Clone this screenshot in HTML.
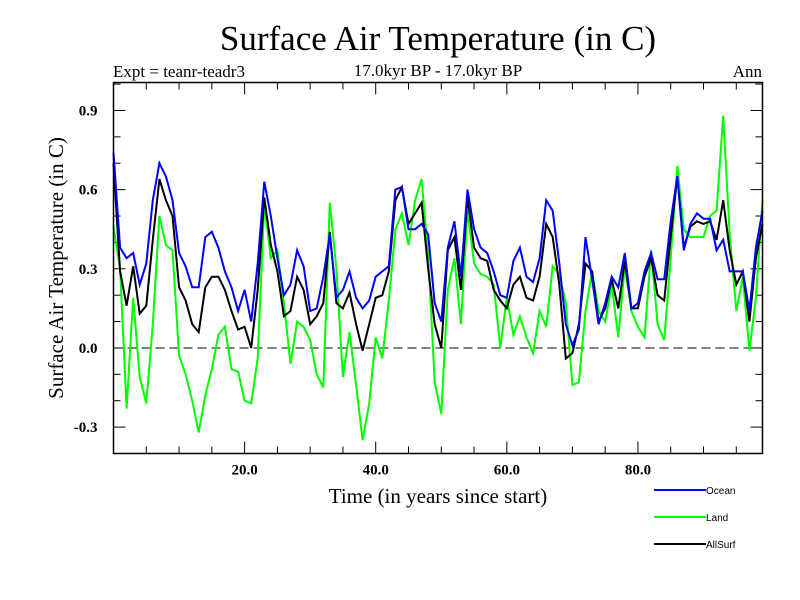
<!DOCTYPE html>
<html><head><meta charset="utf-8"><style>
body{margin:0;background:#fff;}
svg{display:block;font-family:"Liberation Serif",serif;}
</style></head><body>
<svg id="chart" width="800" height="600">
<rect width="800" height="600" fill="#fff"/>
<text x="438" y="50" font-size="35" text-anchor="middle">Surface Air Temperature (in C)</text>
<text x="438" y="76" font-size="17" text-anchor="middle">17.0kyr BP - 17.0kyr BP</text>
<text x="113" y="77" font-size="17">Expt = teanr-teadr3</text>
<text x="762" y="77" font-size="17" text-anchor="end">Ann</text>
<text transform="translate(63,268) rotate(-90)" font-size="21" text-anchor="middle">Surface Air Temperature (in C)</text>
<text x="438" y="503" font-size="21" text-anchor="middle">Time (in years since start)</text>
<g id="axes"></g>
<g id="series"></g>
<rect x="113.5" y="82.5" width="649" height="371" fill="none" stroke="#000" stroke-width="1.5"/>
<g font-family="Liberation Sans, sans-serif" font-size="10">
<g><line x1="654" y1="490" x2="706" y2="490" stroke="#0000ff" stroke-width="2"/><text x="706" y="494">Ocean</text></g>
<g><line x1="654" y1="517" x2="706" y2="517" stroke="#00ff00" stroke-width="2"/><text x="706" y="521">Land</text></g>
<g><line x1="654" y1="544" x2="706" y2="544" stroke="#000" stroke-width="2"/><text x="706" y="548">AllSurf</text></g>
</g>
</svg>
<script>
const ocean=[0.74,0.38,0.34,0.36,0.24,0.32,0.56,0.70,0.65,0.56,0.36,0.31,0.23,0.23,0.42,0.44,0.38,0.29,0.23,0.14,0.22,0.10,0.32,0.63,0.50,0.34,0.20,0.24,0.37,0.31,0.14,0.15,0.27,0.43,0.19,0.22,0.29,0.19,0.15,0.18,0.27,0.29,0.31,0.60,0.61,0.45,0.45,0.47,0.43,0.17,0.10,0.38,0.48,0.27,0.60,0.45,0.38,0.36,0.29,0.20,0.19,0.33,0.38,0.27,0.25,0.34,0.56,0.52,0.32,0.09,0.01,0.07,0.42,0.26,0.09,0.17,0.27,0.23,0.36,0.15,0.17,0.29,0.36,0.26,0.26,0.48,0.65,0.37,0.47,0.51,0.49,0.49,0.37,0.41,0.29,0.29,0.29,0.14,0.38,0.52];
const land=[0.46,0.30,-0.23,0.19,-0.11,-0.21,0.09,0.50,0.39,0.37,-0.03,-0.10,-0.20,-0.32,-0.18,-0.08,0.05,0.08,-0.08,-0.09,-0.20,-0.21,-0.04,0.55,0.34,0.37,0.17,-0.06,0.10,0.08,0.03,-0.10,-0.15,0.55,0.30,-0.11,0.06,-0.14,-0.35,-0.21,0.04,-0.04,0.18,0.45,0.51,0.39,0.56,0.64,0.35,-0.13,-0.25,0.22,0.34,0.09,0.52,0.32,0.28,0.27,0.24,0.00,0.19,0.05,0.12,0.04,-0.02,0.14,0.08,0.31,0.28,0.17,-0.14,-0.13,0.14,0.29,0.14,0.10,0.24,0.04,0.31,0.14,0.08,0.04,0.37,0.09,0.03,0.34,0.69,0.45,0.42,0.42,0.42,0.50,0.52,0.88,0.43,0.14,0.27,-0.01,0.19,0.56];
const allsurf=[0.70,0.29,0.16,0.31,0.13,0.16,0.41,0.64,0.56,0.50,0.23,0.18,0.09,0.06,0.23,0.27,0.27,0.22,0.14,0.07,0.08,0.00,0.22,0.57,0.39,0.29,0.12,0.14,0.27,0.22,0.09,0.12,0.17,0.44,0.17,0.15,0.21,0.09,-0.01,0.09,0.19,0.20,0.29,0.56,0.61,0.47,0.51,0.55,0.30,0.09,0.00,0.37,0.42,0.22,0.57,0.38,0.34,0.33,0.22,0.18,0.15,0.24,0.27,0.19,0.18,0.27,0.47,0.42,0.24,-0.04,-0.02,0.09,0.32,0.29,0.10,0.15,0.26,0.15,0.33,0.15,0.15,0.27,0.34,0.20,0.18,0.42,0.65,0.38,0.46,0.48,0.47,0.48,0.41,0.56,0.37,0.24,0.29,0.10,0.34,0.47];
const yTicks=[-0.3,0.0,0.3,0.6,0.9];
const yTickLabels=["-0.3","0.0","0.3","0.6","0.9"];
const xTicks=[20,40,60,80];
const xTickLabels=["20.0","40.0","60.0","80.0"];
const X0=113.5,X1=762.5,Y0=82.5,Y1=453.5;
const xMin=0,xMax=99,yMin=-0.4,yMax=1.006;
const sx=v=>X0+(v-xMin)/(xMax-xMin)*(X1-X0);
const sy=v=>Y1-(v-yMin)/(yMax-yMin)*(Y1-Y0);
const NS='http://www.w3.org/2000/svg';
const axes=document.getElementById('axes');
const series=document.getElementById('series');
function mk(tag,attrs,parent){const e=document.createElementNS(NS,tag);for(const k in attrs)e.setAttribute(k,attrs[k]);parent.appendChild(e);return e;}
for(let i=-3;i<=10;i++){const v=i/10;if(v<yMin||v>yMax)continue;const y=sy(v);const major=(i%3===0);const len=major?12:7;
const t1=mk('line',{x1:X0,y1:y,x2:X0+len,y2:y,stroke:'#000','stroke-width':1},axes);


const t2=mk('line',{x1:X1,y1:y,x2:X1-len,y2:y,stroke:'#000','stroke-width':1},axes);

}
yTicks.forEach((v,i)=>{const t=mk('text',{x:X0-16,y:sy(v)+5,'font-size':15,'font-weight':'bold','text-anchor':'end'},axes);t.textContent=yTickLabels[i];

});
for(let v=5;v<=95;v+=5){const x=sx(v);const major=(v%20===0);const len=major?12:7;
const t1=mk('line',{x1:x,y1:Y1,x2:x,y2:Y1-len,stroke:'#000','stroke-width':1},axes);


const t2=mk('line',{x1:x,y1:Y0,x2:x,y2:Y0+len,stroke:'#000','stroke-width':1},axes);

}
xTicks.forEach((v,i)=>{const t=mk('text',{x:sx(v),y:Y1+21,'font-size':15,'font-weight':'bold','text-anchor':'middle'},axes);t.textContent=xTickLabels[i];

});
const zl=mk('line',{x1:X0,y1:sy(0),x2:X1,y2:sy(0),stroke:'#000','stroke-width':1,'stroke-dasharray':'9,5'},axes);


function draw(arr,color,name){const pts=arr.map((v,i)=>sx(i).toFixed(1)+','+sy(v).toFixed(1)).join(' ');
const p=mk('polyline',{points:pts,fill:'none',stroke:color,'stroke-width':2,'stroke-linejoin':'miter'},series);

}
draw(land,'#00ff00','land-line');
draw(allsurf,'#000000','allsurf-line');
draw(ocean,'#0000ff','ocean-line');
</script>
</body></html>
